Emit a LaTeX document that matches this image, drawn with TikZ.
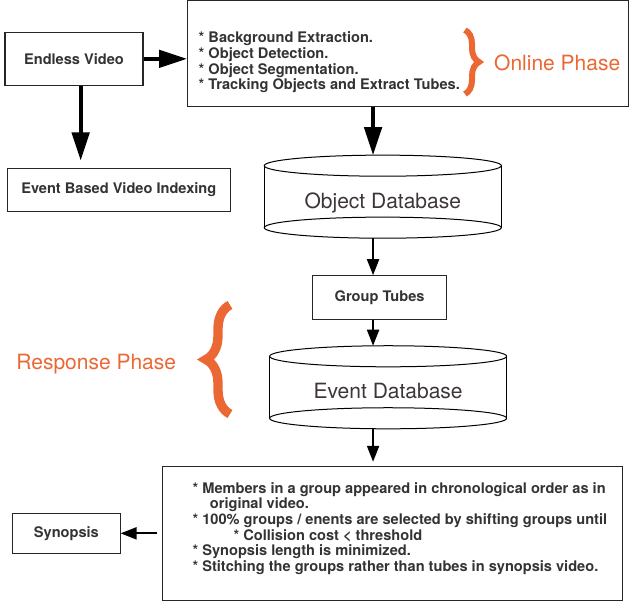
\documentclass[tikz,border=0pt]{standalone}
\usepackage{fontspec}
\setmainfont{TeX Gyre Heros}
\usepackage{xcolor}
\usepackage{tikz}
\usetikzlibrary{positioning,arrows.meta,decorations.pathreplacing}

\definecolor{phaseorange}{RGB}{235,103,52}
\definecolor{inkgray}{RGB}{52,50,50}
\definecolor{dbgray}{RGB}{62,54,54}

\newcommand{\boxfont}{\fontsize{10.95pt}{11.75pt}\selectfont\bfseries}
\newcommand{\dbfont}{\fontsize{15.75pt}{18pt}\selectfont}

\tikzset{
    block/.style={draw=black!85, line width=0.8pt, inner sep=0pt, font=\boxfont, text=inkgray},
    listtext/.style={inner sep=0pt, align=left, font=\boxfont, text=inkgray},
    database/.style={inner sep=0pt, minimum width=177.75pt, minimum height=61.9pt, text height=17.5pt, text depth=0pt, font=\dbfont, text=dbgray},
    phase/.style={inner sep=0pt, font=\dbfont, text=phaseorange},
    bigarrow/.style={line width=2.8pt, -{Triangle[length=21pt, width=13pt]}},
    smallarrow/.style={line width=1.5pt, -{Triangle[length=12pt, width=9pt]}},
    phasebrace/.style={decorate, decoration={brace, amplitude=#1}, draw=phaseorange}
}

\begin{document}
\begin{tikzpicture}
        \useasboundingbox (0,0) rectangle (471.75pt,-450.75pt);

        \node[block] (video) [minimum width=103.5pt, minimum height=40.1pt] at (55.5pt,-44.1pt) {Endless Video};
        \node[block] (online) [minimum width=331.1pt, minimum height=79.5pt, right = 32.6pt of video, yshift=3.9pt] {};
        \node[listtext] (steps) [right = 8.6pt of online.west, yshift=-6.75pt]
            {* Background Extraction.\\ * Object Detection.\\ * Object Segmentation.\\ * Tracking Objects and Extract Tubes.};
        \node[phase] (onlinephase) [left = 6.75pt of online.east, yshift=-7.1pt] {Online Phase};
        \node[block] (index) [minimum width=166.9pt, minimum height=32.6pt, below = 61.1pt of video, xshift=33.6pt] {Event Based Video Indexing};
        \node[database] (objdb) [below = 36pt of online, xshift=-19.1pt] {Object Database};
        \node[block] (gtubes) [minimum width=100.5pt, minimum height=32.6pt, below = 27.75pt of objdb, xshift=-2.4pt] {Group Tubes};
        \node[database] (evdb) [below = 19.5pt of gtubes, xshift=6.4pt] {Event Database};
        \node[phase] (responsephase) [left = 69.75pt of evdb, yshift=17.6pt] {Response Phase};
        \node[block] (rules) [minimum width=344.5pt, minimum height=100.5pt, below = 27.75pt of evdb, xshift=3.3pt] {};
        \node[listtext] (ruletext) [right = 22.5pt of rules.west, yshift=3.75pt]
            {* Members in a group appeared in chronological order as in\\
             \hspace*{13pt}original video.\\
             * 100\% groups / enents are selected by shifting groups until\\
             \hspace*{30.75pt}* Collision cost < threshold\\
             * Synopsis length is minimized.\\
             * Stitching the groups rather than tubes in synopsis video.};
        \node[block] (synopsis) [minimum width=80.5pt, minimum height=30.2pt, left = 31.3pt of rules] {Synopsis};

        \coordinate (spine) at ([xshift=-7.3pt]objdb.north);

        \foreach \db in {objdb,evdb}{
            \draw[line width=0.75pt] ([yshift=-7.9pt]\db.north west) -- ([yshift=7.9pt]\db.south west)
                ([yshift=-7.9pt]\db.north east) -- ([yshift=7.9pt]\db.south east);
            \draw[line width=0.75pt] ([yshift=-7.9pt]\db.north) ellipse [x radius=88.9pt, y radius=7.9pt];
            \draw[line width=0.75pt] ([yshift=7.9pt]\db.south) ellipse [x radius=88.9pt, y radius=7.9pt];
        }

        \draw[phasebrace=10.5pt, line width=4.5pt] (348.75pt,-22.5pt) -- (348.75pt,-70.5pt);
        \draw[phasebrace=18pt, line width=7pt] (172.5pt,-310.5pt) -- (172.5pt,-228.75pt);

        \draw[bigarrow] (video.east) -- (video.east -| online.west);
        \draw[bigarrow, shorten >=5.3pt] ([xshift=5pt]video.south) -- ([xshift=5pt]video.south |- index.north);
        \draw[bigarrow] (online.south -| spine) -- (objdb.north -| spine);
        \draw[smallarrow] (objdb.south -| spine) -- (gtubes.north -| spine);
        \draw[smallarrow] (gtubes.south -| spine) -- (evdb.north -| spine);
        \draw[smallarrow, shorten >=3pt] (evdb.south -| spine) -- (rules.north -| spine);
        \draw[smallarrow, shorten <=3.75pt] (rules.west) -- (rules.west -| synopsis.east);
\end{tikzpicture}
\end{document}
